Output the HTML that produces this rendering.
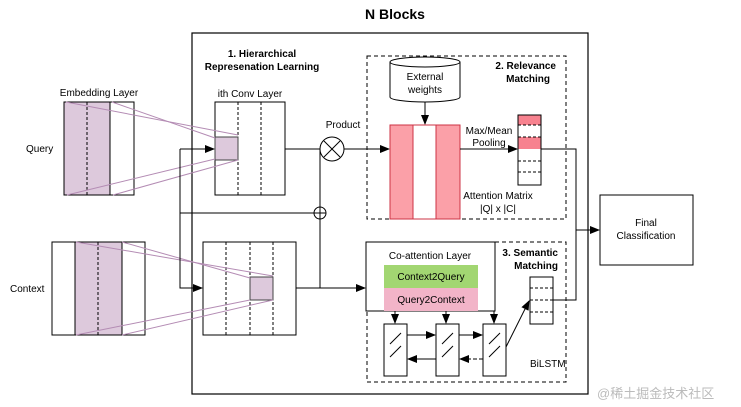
<!DOCTYPE html>
<html><head><meta charset="utf-8"><style>
html,body{margin:0;padding:0;background:#fff;}
svg{display:block;font-family:"Liberation Sans",Arial,sans-serif;}
</style></head><body>
<svg width="741" height="407" viewBox="0 0 741 407" xmlns="http://www.w3.org/2000/svg">
<defs>
<marker id="a" markerWidth="10" markerHeight="8" refX="9" refY="4" orient="auto" markerUnits="userSpaceOnUse"><path d="M0,0 L10,4 L0,8 z" fill="#000"/></marker>
</defs>
<text x="395" y="19" font-size="14" font-weight="bold" text-anchor="middle">N Blocks</text>
<rect x="192" y="33" width="396" height="361" fill="none" stroke="#000" stroke-width="1.2"/>
<text x="262" y="57" font-size="10" font-weight="bold" text-anchor="middle">1. Hierarchical</text>
<text x="262" y="70" font-size="10" font-weight="bold" text-anchor="middle">Represenation Learning</text>

<!-- Query embedding -->
<text x="99" y="96" font-size="10" text-anchor="middle">Embedding Layer</text>
<rect x="64" y="102" width="46" height="93" fill="#ddc9dc"/>
<rect x="64" y="102" width="70" height="93" fill="none" stroke="#000"/>
<line x1="110" y1="102" x2="110" y2="195" stroke="#000"/>
<line x1="87" y1="102" x2="87" y2="195" stroke="#000" stroke-dasharray="3,2"/>
<text x="26" y="152" font-size="10">Query</text>

<!-- Context embedding -->
<rect x="75" y="242" width="47" height="93" fill="#ddc9dc"/>
<rect x="52" y="242" width="93" height="93" fill="none" stroke="#000"/>
<line x1="75" y1="242" x2="75" y2="335" stroke="#000"/>
<line x1="122" y1="242" x2="122" y2="335" stroke="#000"/>
<line x1="98" y1="242" x2="98" y2="335" stroke="#000" stroke-dasharray="3,2"/>
<text x="10" y="292" font-size="10">Context</text>

<!-- Query conv -->
<text x="250" y="97" font-size="10" text-anchor="middle">ith Conv Layer</text>
<rect x="215" y="102" width="70" height="93" fill="#fff" stroke="#000"/>
<line x1="238" y1="102" x2="238" y2="195" stroke="#000" stroke-dasharray="3,2"/>
<line x1="261" y1="102" x2="261" y2="195" stroke="#000" stroke-dasharray="3,2"/>
<rect x="215" y="137" width="23" height="23" fill="#ddc9dc" stroke="#444"/>

<!-- Context conv -->
<rect x="203" y="242" width="93" height="93" fill="#fff" stroke="#000"/>
<line x1="226" y1="242" x2="226" y2="335" stroke="#000" stroke-dasharray="3,2"/>
<line x1="250" y1="242" x2="250" y2="335" stroke="#000" stroke-dasharray="3,2"/>
<line x1="273" y1="242" x2="273" y2="335" stroke="#000" stroke-dasharray="3,2"/>
<rect x="250" y="277" width="23" height="23" fill="#ddc9dc" stroke="#444"/>

<!-- purple projection lines -->
<g stroke="#b48cb4" stroke-width="1">
<line x1="66" y1="102" x2="238" y2="135"/>
<line x1="112" y1="102" x2="215" y2="138"/>
<line x1="67" y1="195" x2="215" y2="159"/>
<line x1="113" y1="195" x2="238" y2="160"/>
<line x1="76" y1="242" x2="273" y2="276"/>
<line x1="122" y1="242" x2="250" y2="278"/>
<line x1="76" y1="335" x2="250" y2="300"/>
<line x1="122" y1="335" x2="273" y2="300"/>
</g>

<!-- connectors -->
<g stroke="#000" fill="none" stroke-width="1">
<polyline points="285,149 320,149 320,288"/>
<line x1="180" y1="149" x2="214" y2="149" marker-end="url(#a)"/>
<polyline points="180,149 180,288 202,288" marker-end="url(#a)"/>
<line x1="180" y1="213" x2="314" y2="213"/>
<line x1="296" y1="288" x2="365" y2="288" marker-end="url(#a)"/>
<line x1="344" y1="149" x2="389" y2="149" marker-end="url(#a)"/>
</g>
<circle cx="320" cy="213" r="6" fill="#fff" stroke="#000"/>
<line x1="314" y1="213" x2="326" y2="213" stroke="#000"/>
<line x1="320" y1="207" x2="320" y2="219" stroke="#000"/>
<circle cx="332" cy="149" r="12" fill="#fff" stroke="#000"/>
<line x1="324" y1="141" x2="340" y2="157" stroke="#000"/>
<line x1="340" y1="141" x2="324" y2="157" stroke="#000"/>
<text x="343" y="128" font-size="10" text-anchor="middle">Product</text>

<!-- Relevance -->
<rect x="367" y="56" width="199" height="163" fill="none" stroke="#000" stroke-dasharray="4,3"/>
<text x="556" y="69" font-size="10" font-weight="bold" text-anchor="end">2. Relevance</text>
<text x="550" y="82" font-size="10" font-weight="bold" text-anchor="end">Matching</text>
<path d="M390,62 L390,97 A35,5 0 0 0 460,97 L460,62" fill="#fff" stroke="#000"/>
<ellipse cx="425" cy="62" rx="35" ry="5" fill="#fff" stroke="#000"/>
<text x="425" y="80" font-size="10" text-anchor="middle">External</text>
<text x="425" y="93" font-size="10" text-anchor="middle">weights</text>
<line x1="425" y1="102" x2="425" y2="124" stroke="#000" marker-end="url(#a)"/>
<rect x="390" y="125" width="23" height="94" fill="#fba0a8" stroke="#cc3344"/>
<rect x="413" y="125" width="23" height="94" fill="#fff" stroke="#cc3344"/>
<rect x="436" y="125" width="24" height="94" fill="#fba0a8" stroke="#cc3344"/>
<text x="489" y="134" font-size="10" text-anchor="middle">Max/Mean</text>
<text x="489" y="146" font-size="10" text-anchor="middle">Pooling</text>
<line x1="460" y1="149" x2="517" y2="149" stroke="#000" marker-end="url(#a)"/>
<rect x="518" y="115" width="23" height="10" fill="#f7828f"/>
<rect x="518" y="137" width="23" height="12" fill="#f7828f"/>
<rect x="518" y="115" width="23" height="70" fill="none" stroke="#000"/>
<g stroke="#000" stroke-dasharray="3,2"><line x1="518" y1="125" x2="541" y2="125"/><line x1="518" y1="137" x2="541" y2="137"/><line x1="518" y1="161" x2="541" y2="161"/><line x1="518" y1="172" x2="541" y2="172"/></g>
<text x="498" y="199" font-size="10" text-anchor="middle">Attention Matrix</text>
<text x="498" y="212" font-size="10" text-anchor="middle">|Q| x |C|</text>

<polyline points="541,149 576,149 576,300 553,300" fill="none" stroke="#000"/>
<line x1="576" y1="230" x2="599" y2="230" stroke="#000" marker-end="url(#a)"/>
<rect x="600" y="195" width="93" height="70" fill="#fff" stroke="#000"/>
<text x="646" y="226" font-size="10" text-anchor="middle">Final</text>
<text x="646" y="239" font-size="10" text-anchor="middle">Classification</text>

<!-- Semantic -->
<path d="M495,242 L566,242 L566,382 L367,382 L367,311" fill="none" stroke="#000" stroke-dasharray="4,3"/>
<text x="558" y="256" font-size="10" font-weight="bold" text-anchor="end">3. Semantic</text>
<text x="558" y="269" font-size="10" font-weight="bold" text-anchor="end">Matching</text>
<rect x="366" y="242" width="129" height="69" fill="#fff" stroke="#000"/>
<text x="430" y="259" font-size="10" text-anchor="middle">Co-attention Layer</text>
<rect x="384" y="265" width="94" height="23" fill="#a2d672"/>
<rect x="384" y="288" width="94" height="23" fill="#f2b4c8"/>
<text x="431" y="280" font-size="10" text-anchor="middle">Context2Query</text>
<text x="431" y="303" font-size="10" text-anchor="middle">Query2Context</text>
<rect x="530" y="277" width="23" height="47" fill="#fff" stroke="#000"/>
<g stroke="#000" stroke-dasharray="3,2"><line x1="530" y1="288" x2="553" y2="288"/><line x1="530" y1="300" x2="553" y2="300"/><line x1="530" y1="312" x2="553" y2="312"/></g>
<g stroke="#000" fill="none">
<line x1="395" y1="311" x2="395" y2="323" marker-end="url(#a)"/>
<line x1="446" y1="311" x2="446" y2="323" marker-end="url(#a)"/>
<line x1="494" y1="311" x2="494" y2="323" marker-end="url(#a)"/>
<rect x="384" y="324" width="23" height="52" fill="#fff"/>
<rect x="436" y="324" width="23" height="52" fill="#fff"/>
<rect x="483" y="324" width="23" height="52" fill="#fff"/>
<line x1="390" y1="344" x2="401" y2="333"/><line x1="390" y1="357" x2="401" y2="346"/>
<line x1="442" y1="344" x2="453" y2="333"/><line x1="442" y1="357" x2="453" y2="346"/>
<line x1="489" y1="344" x2="500" y2="333"/><line x1="489" y1="357" x2="500" y2="346"/>
<line x1="407" y1="335" x2="435" y2="335" marker-end="url(#a)"/>
<line x1="459" y1="335" x2="482" y2="335" marker-end="url(#a)"/>
<line x1="436" y1="359" x2="408" y2="359" marker-end="url(#a)"/>
<line x1="483" y1="359" x2="460" y2="359" stroke-dasharray="4,2" marker-end="url(#a)"/>
<line x1="506" y1="347" x2="529" y2="301" marker-end="url(#a)"/>
</g>
<text x="530" y="367" font-size="10">BiLSTM</text>
<text x="597" y="398" font-size="13" fill="#bbb" font-family="'Liberation Sans','Noto Sans CJK SC',sans-serif">@稀土掘金技术社区</text>
</svg>
</body></html>
